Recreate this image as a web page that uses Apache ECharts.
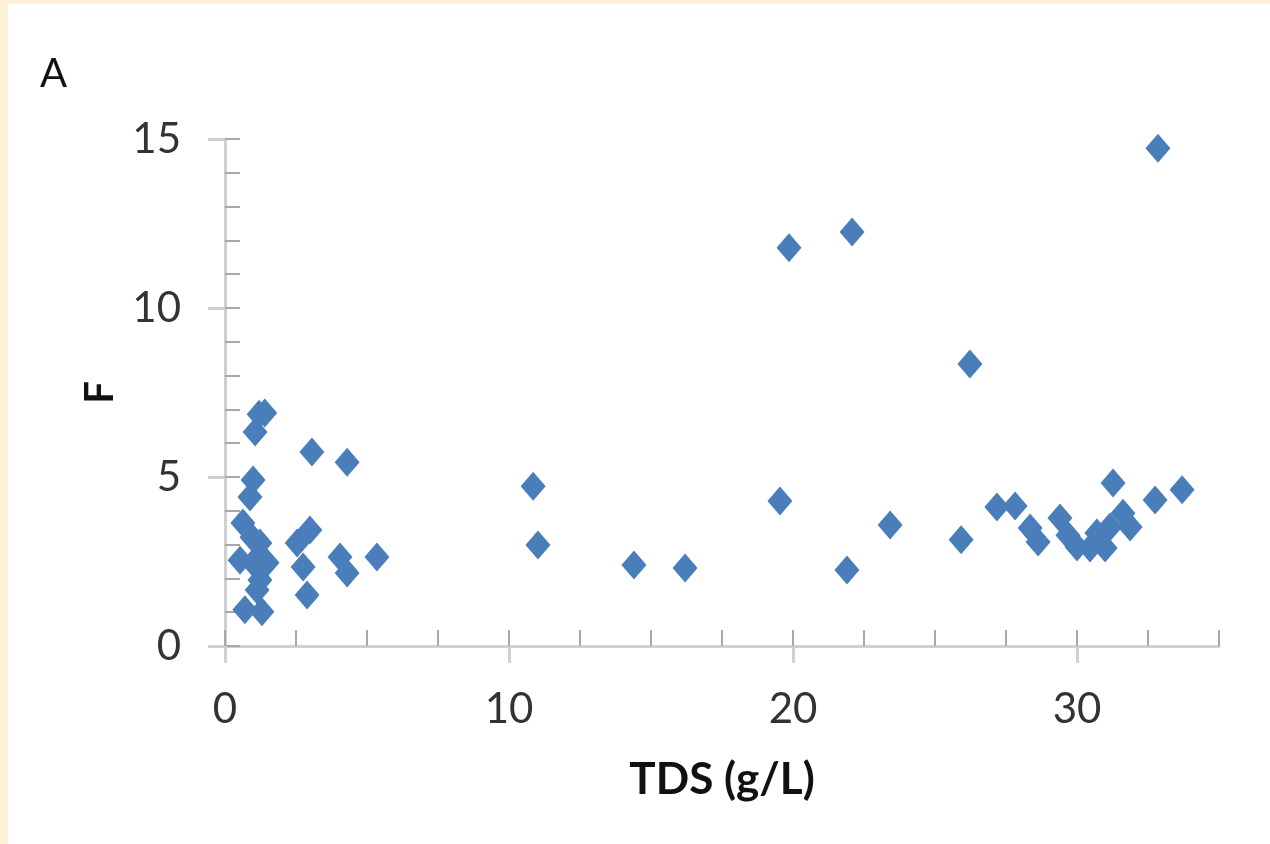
<!DOCTYPE html>
<html>
<head>
<meta charset="utf-8">
<script src="https://cdn.jsdelivr.net/npm/echarts@6/dist/echarts.min.js"></script>
<style>
  html, body { margin: 0; padding: 0; background: #fcf0d7; width: 1270px; height: 844px; overflow: hidden; }
  #chart { position: absolute; left: 8px; top: 4px; width: 1262px; height: 840px; background: #ffffff; }
</style>
</head>
<body>
<div id="chart"></div>
<script>
// TDS (g/L) and fluoride (F) for each sample
const tdsValues = [
  1.06, 1.20, 1.40, 0.99, 0.88, 0.63, 0.95, 1.23, 0.53, 0.99, 1.48, 1.23, 1.13, 0.70, 1.30,
  2.54, 2.99, 2.75, 2.89, 3.06, 4.30, 4.05, 4.30, 5.35,
  10.85, 11.02, 14.40, 16.20, 19.54, 19.86, 21.90, 22.08, 23.42, 25.92, 26.23,
  27.18, 27.82, 28.35, 28.63, 29.40, 29.68, 30.00, 30.46, 30.99, 30.70, 31.16, 31.62, 31.87,
  31.27, 32.75, 33.70, 32.85
];
const fValues = [
  6.33, 6.86, 6.89, 4.91, 4.41, 3.64, 3.22, 3.05, 2.54, 2.46, 2.46, 1.95, 1.66, 1.07, 1.01,
  3.05, 3.43, 2.34, 1.51, 5.74, 5.44, 2.63, 2.16, 2.63,
  4.73, 2.99, 2.40, 2.31, 4.29, 11.78, 2.25, 12.25, 3.58, 3.14, 8.34,
  4.11, 4.14, 3.49, 3.08, 3.79, 3.28, 2.93, 2.90, 2.90, 3.34, 3.52, 3.93, 3.52,
  4.82, 4.32, 4.62, 14.73
];
const xMajorTicks = [0, 10, 20, 30];
const yMajorTicks = [0, 5, 10, 15];

const points = tdsValues.map((x, i) => [x, fValues[i]]);

const FONT = 'Lato, "Open Sans", sans-serif';
const lineColor = '#d0d0d0';
const tickColor = '#a8a8a8';

const chart = echarts.init(document.getElementById('chart'), null, { renderer: 'canvas' });
chart.setOption({
  animation: false,
  backgroundColor: '#ffffff',
  grid: { left: 217, top: 135, width: 994, height: 507, containLabel: false },
  graphic: [{
    type: 'text', left: 32, top: 50,
    style: { text: 'A', font: '400 40px ' + FONT, fill: '#111111' }
  }],
  xAxis: [{
    type: 'value', min: 0, max: 35, interval: 2.5,
    position: 'bottom',
    name: 'TDS (g/L)', nameLocation: 'middle', nameGap: 112,
    nameTextStyle: { fontFamily: FONT, fontSize: 44, fontWeight: 'bold', color: '#111111' },
    axisLine: { show: true, onZero: false, lineStyle: { color: lineColor, width: 3 } },
    axisTick: { show: true, inside: true, length: 16, lineStyle: { color: tickColor, width: 2 } },
    axisLabel: { customValues: xMajorTicks, margin: 42, fontFamily: FONT, fontSize: 42, color: '#333333' },
    splitLine: { show: false }
  }, {
    type: 'value', min: 0, max: 35, interval: 2.5,
    position: 'bottom',
    axisLine: { show: false },
    axisTick: { show: true, inside: false, length: 17, customValues: xMajorTicks, lineStyle: { color: lineColor, width: 3 } },
    axisLabel: { show: false },
    splitLine: { show: false }
  }],
  yAxis: [{
    type: 'value', min: 0, max: 15, interval: 1,
    position: 'left',
    name: 'F', nameLocation: 'middle', nameGap: 105, nameRotate: 90,
    nameTextStyle: { fontFamily: FONT, fontSize: 40, fontWeight: 'bold', color: '#111111' },
    axisLine: { show: true, onZero: false, lineStyle: { color: lineColor, width: 3 } },
    axisTick: { show: true, inside: true, length: 15, lineStyle: { color: tickColor, width: 2 } },
    axisLabel: { customValues: yMajorTicks, margin: 44, fontFamily: FONT, fontSize: 42, color: '#333333' },
    splitLine: { show: false }
  }, {
    type: 'value', min: 0, max: 15, interval: 1,
    position: 'left',
    axisLine: { show: false },
    axisTick: { show: true, inside: false, length: 17, customValues: yMajorTicks, lineStyle: { color: lineColor, width: 3 } },
    axisLabel: { show: false },
    splitLine: { show: false }
  }],
  series: [{
    type: 'scatter',
    xAxisIndex: 0, yAxisIndex: 0,
    symbol: 'diamond',
    symbolSize: [25, 29],
    itemStyle: { color: '#4a7ebb', opacity: 1 },
    data: points
  }]
});
</script>
</body>
</html>
